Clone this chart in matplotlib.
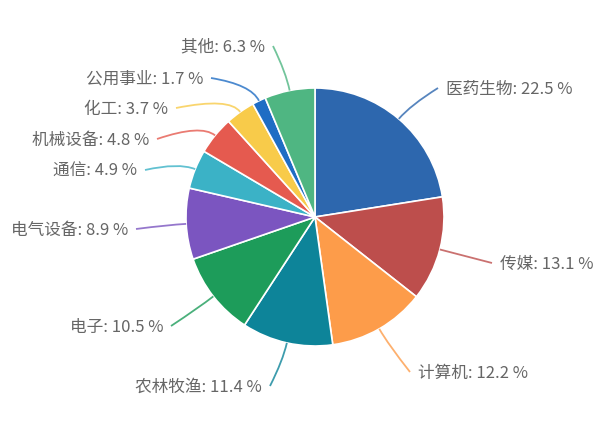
import numpy as np
import matplotlib.pyplot as plt
from matplotlib.path import Path
from matplotlib.patches import PathPatch

plt.rcParams['font.family'] = ['Noto Sans CJK SC', 'DejaVu Sans']

# 数据
sectors = ['医药生物', '传媒', '计算机', '农林牧渔', '电子', '电气设备',
           '通信', '机械设备', '化工', '公用事业', '其他']
shares = [22.5, 13.1, 12.2, 11.4, 10.5, 8.9, 4.9, 4.8, 3.7, 1.7, 6.3]
colors = ['#2d67ae', '#bd4e4c', '#fd9c4a', '#0d8499', '#1d9c5a', '#7b55c0',
          '#3bb2c6', '#e55a4f', '#f8cb4a', '#1f6dc4', '#4fb682']

# 布局 (像素坐标, y 向下)
W, H = 600, 428
cx, cy, R = 315, 217, 129
# 文字锚点: (x, y, 对齐)
label_pos = [(446, 89, 'left'), (500, 264, 'left'), (418, 373, 'left'),
             (262, 387, 'right'), (163, 327, 'right'), (128, 230, 'right'),
             (137, 171, 'right'), (149, 140, 'right'), (168, 109, 'right'),
             (203, 79, 'right'), (265, 47, 'right')]


def py(y):
    return H - y


fig = plt.figure(figsize=(W / 100, H / 100), dpi=100)
ax = fig.add_axes([0, 0, 1, 1])

wedges, _ = ax.pie(shares, colors=colors, startangle=90, counterclock=False,
                   center=(cx, py(cy)), radius=R,
                   wedgeprops=dict(edgecolor='white', linewidth=1.2))
ax.set_xlim(0, W)
ax.set_ylim(0, H)
ax.axis('off')

for name, val, col, w, (tx, ty, ha) in zip(sectors, shares, colors, wedges, label_pos):
    mid = np.deg2rad((w.theta1 + w.theta2) / 2)
    dx, dy = np.cos(mid), np.sin(mid)
    p0 = (cx + R * dx, py(cy) + R * dy)
    p1 = (cx + (R + 18) * dx, py(cy) + (R + 18) * dy)
    gap = 8 if ha == 'left' else -8
    p2 = (tx - gap, py(ty) + 1)
    path = Path([p0, p1, p2], [Path.MOVETO, Path.CURVE3, Path.CURVE3])
    ax.add_patch(PathPatch(path, facecolor='none', edgecolor=col,
                           linewidth=1.3, alpha=0.8))
    ax.text(tx, py(ty), f'{name}: {val} %', ha=ha, va='center',
            fontsize=12, color='#666666')

fig.savefig('out.png', dpi=100)
